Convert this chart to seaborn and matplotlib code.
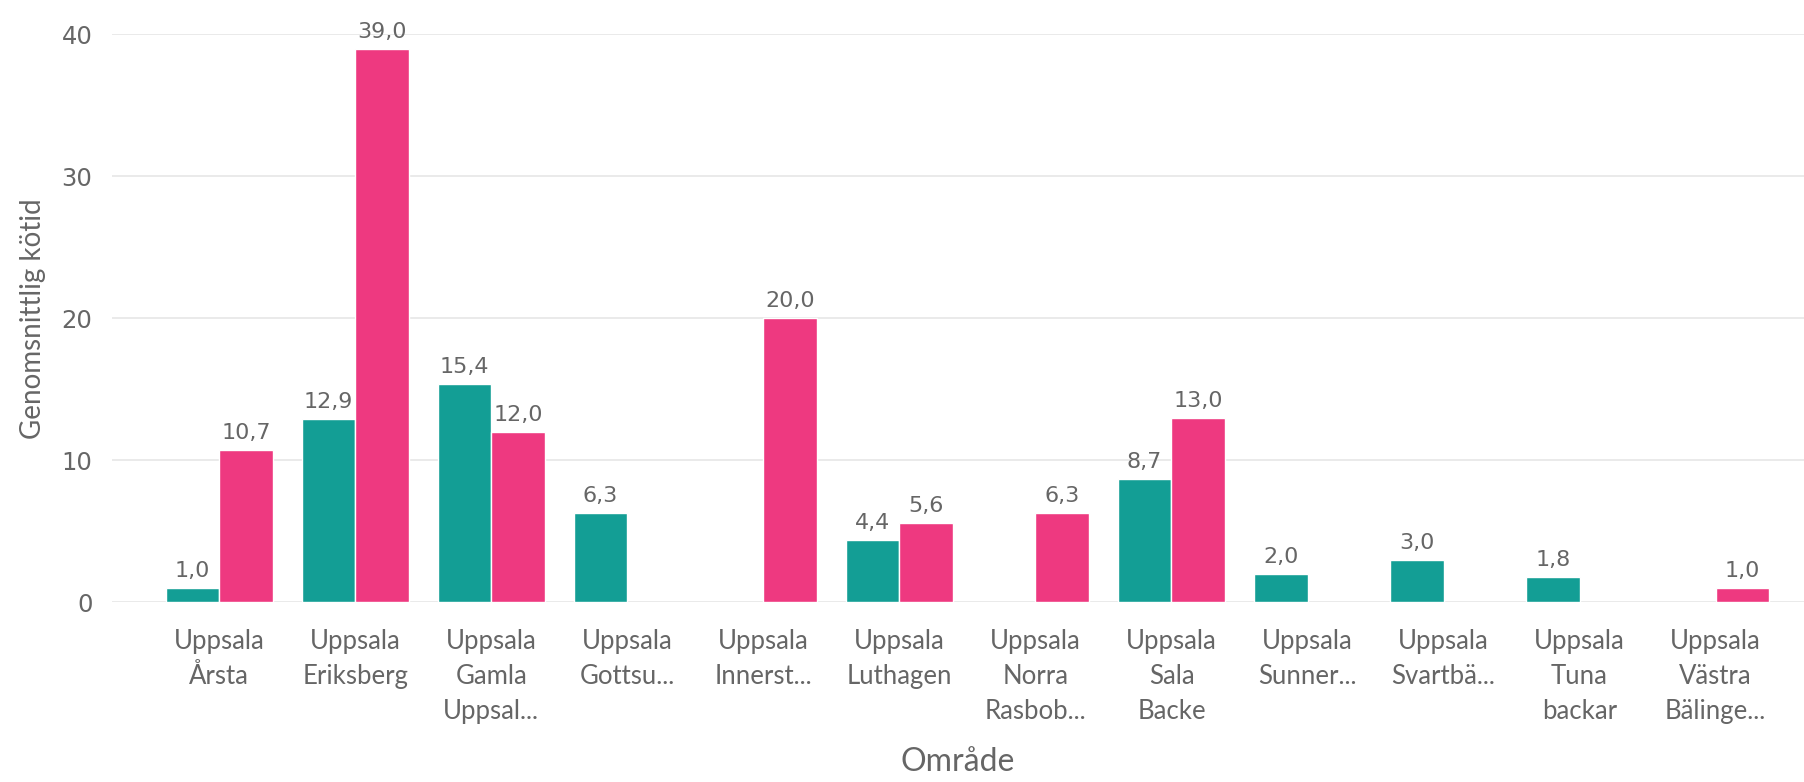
import numpy as np
import pandas as pd
import matplotlib
matplotlib.use("Agg")
import matplotlib.pyplot as plt
import seaborn as sns

# --- Data ---
categories = [
    "Uppsala\nÅrsta", "Uppsala\nEriksberg", "Uppsala\nGamla\nUppsal...",
    "Uppsala\nGottsu...", "Uppsala\nInnerst...", "Uppsala\nLuthagen",
    "Uppsala\nNorra\nRasbob...", "Uppsala\nSala\nBacke", "Uppsala\nSunner...",
    "Uppsala\nSvartbä...", "Uppsala\nTuna\nbackar", "Uppsala\nVästra\nBälinge...",
]
series = ["Grupp 1", "Grupp 2"]
values_1 = [1.0, 12.9, 15.4, 6.3, np.nan, 4.4, np.nan, 8.7, 2.0, 3.0, 1.8, np.nan]
values_2 = [10.7, 39.0, 12.0, np.nan, 20.0, 5.6, 6.3, 13.0, np.nan, np.nan, np.nan, 1.0]
colors = ["#139E95", "#EE3980"]

df = pd.DataFrame({
    "Område": categories * 2,
    "serie": [series[0]] * len(categories) + [series[1]] * len(categories),
    "kötid": values_1 + values_2,
})

sns.set_theme(style="white")
text_col = "#666666"
narrow = ["Lato", "DejaVu Sans"]
wide = ["DejaVu Sans"]

fig = plt.figure(figsize=(18.04, 7.82), dpi=100)
ax = fig.add_axes([0.062, 0.230, 0.938, 0.726])

sns.barplot(data=df, x="Område", y="kötid", hue="serie", order=categories,
            hue_order=series, palette=colors, saturation=1, width=0.79,
            legend=False, ax=ax, errorbar=None)

# data labels with comma decimals
for cont in ax.containers:
    labels = [f"{v:.1f}".replace(".", ",") for v in cont.datavalues]
    ax.bar_label(cont, labels=labels, padding=5, color=text_col,
                 fontsize=16, family=wide)

ax.set_ylim(0, 40)
ax.set_xlim(-0.79, 11.65)
ax.set_yticks([0, 10, 20, 30, 40])
ax.yaxis.grid(True, color="#E6E6E6", linewidth=1.2)
ax.set_axisbelow(True)
sns.despine(ax=ax, left=True, bottom=True)
ax.tick_params(axis="both", length=0)
ax.tick_params(axis="y", pad=14, labelcolor=text_col)
ax.tick_params(axis="x", pad=19, labelcolor=text_col)
for t in ax.get_yticklabels():
    t.set_fontsize(17.5)
    t.set_family(wide)
for t in ax.get_xticklabels():
    t.set_fontsize(18.5)
    t.set_family(narrow)
    t.set_linespacing(1.5)
    t.set_verticalalignment("top")

ax.set_ylabel("Genomsnittlig kötid", fontsize=20, color=text_col, family=narrow)
ax.yaxis.set_label_coords(-0.039, 0.5)
ax.set_xlabel("Område", fontsize=23, color=text_col, family=narrow)
ax.xaxis.set_label_coords(0.5, -0.255)

fig.savefig("out.png", dpi=100)
